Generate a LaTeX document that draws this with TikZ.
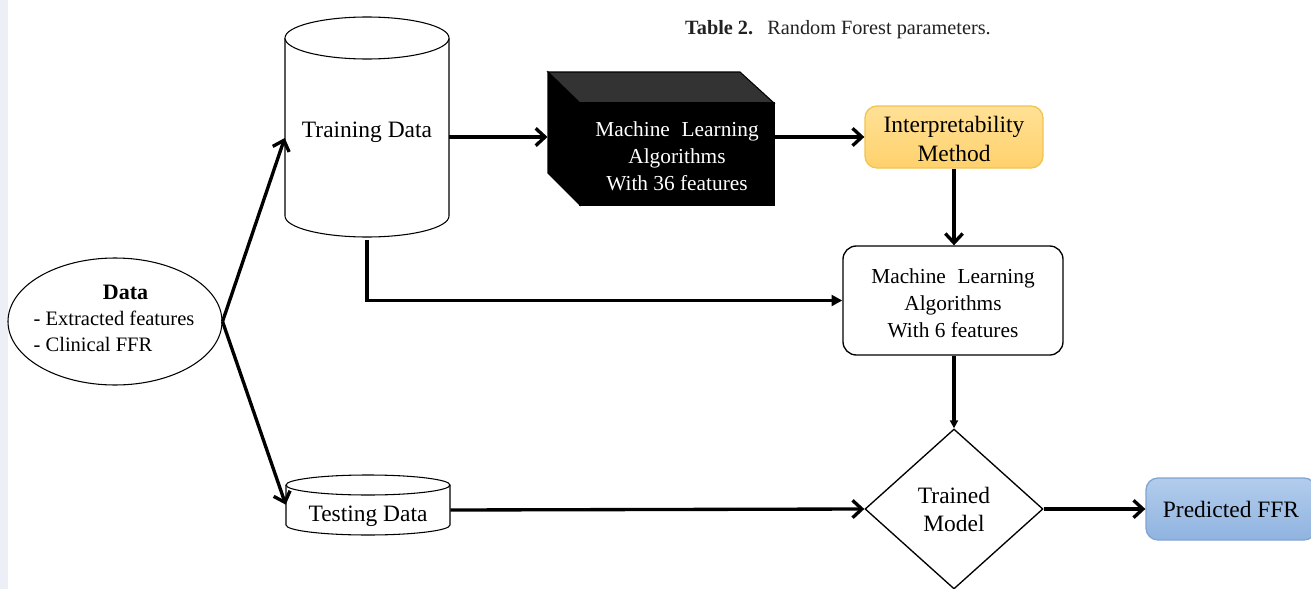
\documentclass[tikz,border=0pt]{standalone}
\usepackage{fontspec}
\setmainfont{Liberation Serif}
\usetikzlibrary{arrows.meta,shapes.geometric}
\definecolor{stripcol}{RGB}{236,239,245}
\definecolor{interptop}{RGB}{255,225,150}
\definecolor{interpbot}{RGB}{255,209,108}
\definecolor{interpline}{RGB}{242,196,80}
\definecolor{predtop}{RGB}{178,205,236}
\definecolor{predbot}{RGB}{144,179,224}
\definecolor{predline}{RGB}{130,165,212}
\definecolor{cubetop}{RGB}{51,51,51}
\definecolor{titlecol}{RGB}{34,34,34}
\tikzset{
  base/.style={inner sep=0pt, align=center, font=\fontsize{17.6}{21.5}\selectfont},
  mlfont/.style={font=\fontsize{16}{20.2}\selectfont},
  outline/.style={draw=black, line width=0.8pt},
  flow/.style={line width=2.5pt, -{Straight Barb[length=7pt,width=13pt]}},
  flowfill/.style={line width=2.5pt, -{Triangle[length=8pt,width=8pt]}},
  flowsmall/.style={line width=2.5pt, -{Triangle[length=6pt,width=6pt]}},
  roundbox/.style={base, rectangle, rounded corners=9pt, line width=1pt}
}
\begin{document}
\begin{tikzpicture}[x=0.75pt,y=-0.75pt]
\useasboundingbox (0,0) rectangle (1311,589);
\fill[white] (0,0) rectangle (1311,589);
\fill[stripcol] (0,0) rectangle (8,589);

% caption
\node[inner sep=0pt, text=titlecol, font=\fontsize{15.2}{18}\selectfont] (title) at (838,30)
  {\textbf{Table 2.}\hspace{0.7em}Random Forest parameters.};

% input data
\node[ellipse, outline, inner sep=0pt, minimum width=160.5pt, minimum height=95.25pt]
  (data) at (115,321.5) {};
\node[inner sep=0pt, align=left, font=\fontsize{15.4}{19.5}\selectfont]
  (datatext) at (114,318.5)
  {\hspace*{52pt}{\fontsize{16.5}{19.5}\selectfont\textbf{Data}}\\- Extracted features\\- Clinical FFR};

% training data cylinder
\draw[outline, fill=white] (285,38) -- (285,216)
  arc[start angle=180, end angle=360, x radius=61.5pt, y radius=15.75pt] -- (449,38);
\draw[outline, fill=white] (367,38) ellipse [x radius=61.5pt, y radius=15.75pt];
\node[base, minimum width=123pt, minimum height=165pt, text depth=0pt] (train) at (367,130) {Training Data};

% testing data cylinder
\draw[outline, fill=white] (286,485) -- (286,525)
  arc[start angle=180, end angle=360, x radius=61.5pt, y radius=7.5pt] -- (450,485);
\draw[outline, fill=white] (368,485) ellipse [x radius=61.5pt, y radius=7.5pt];
\node[base, minimum width=123pt, minimum height=37.5pt, text depth=0pt] (test) at (368,514) {Testing Data};

% black cube: side and top faces, then the front face node
\draw[outline, fill=black] (548,72) -- (580,103) -- (580,205) -- (548,173) -- cycle;
\draw[outline, fill=cubetop] (548,72) -- (740,72) -- (774,103) -- (580,103) -- cycle;
\node[outline, fill=black, minimum width=145.5pt, minimum height=76.5pt, inner sep=0pt]
  (cube) at (677,154) {};
\node[base, mlfont, text=white] (cubetext) at (677,156.5)
  {Machine\hspace{0.55em}Learning\\Algorithms\\With 36 features};

% interpretability step
\node[roundbox, draw=interpline, top color=interptop, bottom color=interpbot,
      minimum width=133.5pt, minimum height=46.5pt,
      font=\fontsize{17.6}{21.75}\selectfont] (interp) at (954,137) {};
\node[base, font=\fontsize{17.6}{21.75}\selectfont] (interptext) at (954,139)
  {Interpretability\\Method};

% reduced model
\node[roundbox, draw=black, fill=white, rounded corners=10pt,
      minimum width=165pt, minimum height=81.75pt] (ml6) at (953,300.5) {};
\node[base, mlfont] (ml6text) at (953,303)
  {Machine\hspace{0.55em}Learning\\Algorithms\\With 6 features};

% trained model decision
\node[base, diamond, outline, line width=1pt, minimum width=133.5pt, minimum height=120pt,
      font=\fontsize{17.6}{21}\selectfont] (model) at (954,509)
  {Trained\\Model};

% output
\node[roundbox, draw=predline, top color=predtop, bottom color=predbot,
      minimum width=127.5pt, minimum height=46.5pt] (pred) at (1231,509)
  {Predicted FFR};

% connectors
\draw[flow] (data.east) -- ([yshift=-6pt]train.west);
\draw[flow] (data.east) -- ([yshift=7pt]test.west);
\draw[flow] (train.east |- interp.west) -- ([xshift=-24pt]cube.west |- interp.west);
\draw[flow] (cube.east |- interp.west) -- (interp.west);
\draw[flow] (interp.south) -- (interp.south |- ml6.north);
\draw[flowfill] (train.south) |- (ml6.west);
\draw[flowsmall] (ml6.south -| model.north) -- (model.north);
\draw[flow] ([yshift=3pt]test.east) -- (model.west);
\draw[flow] (model.east) -- (pred.west);
\end{tikzpicture}
\end{document}
